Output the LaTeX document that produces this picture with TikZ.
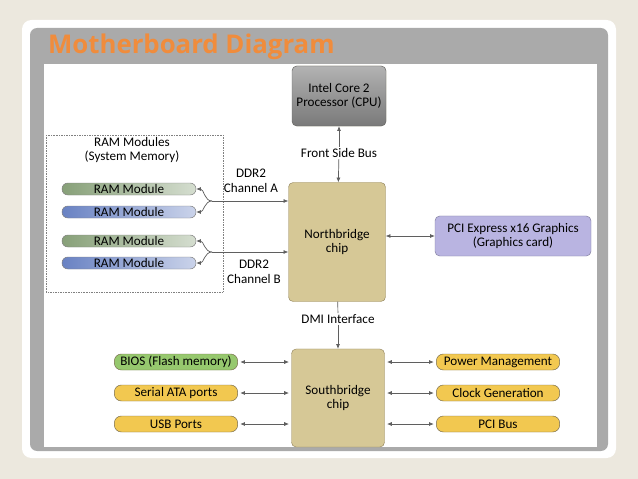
\documentclass[tikz,border=0pt]{standalone}
\usepackage{fontspec}
\setmainfont{Carlito}
\newfontfamily\titlefont{Open Sans}
\usetikzlibrary{arrows.meta,shadows}
\definecolor{pagebg}{RGB}{236,232,222}
\definecolor{framegray}{RGB}{170,170,170}
\definecolor{titleorange}{RGB}{240,140,60}
\definecolor{chipfill}{RGB}{214,200,150}
\definecolor{chipdraw}{RGB}{150,135,95}
\definecolor{pillyellow}{RGB}{242,200,80}
\definecolor{pillgreen}{RGB}{150,200,110}
\definecolor{ramgreen}{RGB}{135,160,120}
\definecolor{ramblue}{RGB}{105,130,195}
\definecolor{pcifill}{RGB}{185,180,225}
\definecolor{linegray}{RGB}{95,95,95}
\newcommand{\boardfont}{\fontsize{11.2}{12.5}\selectfont}
\tikzset{
 chip/.style={draw=chipdraw,fill=chipfill,rounded corners=4pt,align=center,font=\boardfont},
 pill/.style={draw=chipdraw!80!black,rounded corners=6pt,minimum width=3.7cm,minimum height=0.48cm,inner sep=1pt,font=\boardfont},
 ram/.style={draw=gray,rounded corners=5pt,minimum width=4.02cm,minimum height=0.36cm,inner sep=0pt,font=\boardfont},
 link/.style={draw=linegray,line width=0.6pt},
 both/.style={link,{Latex[length=4pt,width=3.5pt]}-{Latex[length=4pt,width=3.5pt]}},
 to/.style={link,-{Latex[length=4pt,width=3.5pt]}},
}
\begin{document}
\begin{tikzpicture}[x=0.03cm,y=-0.03cm]
    % page and frame
    \fill[pagebg] (0,0) rectangle (638,479);
    \fill[white,rounded corners=8pt] (22,20) rectangle (616,458);
    \fill[framegray,rounded corners=6pt] (30,28) rectangle (608,451);
    \fill[white] (44,64) rectangle (597,447);
    \node[anchor=west,font=\titlefont\fontsize{22}{24}\selectfont\bfseries,text=titleorange] (title) at (44,47) {Motherboard Diagram};

    % top part
    \node[chip,draw=gray!80!black,top color=gray!60,bottom color=gray!95!black,
          minimum width=2.82cm,minimum height=1.8cm] (cpu) at (339,96) {Intel Core 2\\Processor (CPU)};
    \node[chip,minimum width=2.91cm,minimum height=3.57cm] (nb) at (337,242) {Northbridge\\chip};
    \node[chip,draw=pcifill!70!black,fill=pcifill,minimum width=4.68cm,minimum height=1.2cm] (pci) at (513,236)
          {PCI Express x16 Graphics\\(Graphics card)};
    \node[font=\boardfont,fill=white,inner sep=1pt] (fsb) at (339,153) {Front Side Bus};
    \draw[to] (fsb) -- (cpu);
    \draw[to] (fsb) -- (nb);
    \draw[both] (nb.east |- pci) -- (pci);

    % memory
    \draw[gray,densely dotted] (46,135) rectangle (223,292);
    \node[align=center,font=\boardfont] (ramlabel) at (132,150) {RAM Modules\\(System Memory)};
    \node[ram,left color=ramgreen,right color=ramgreen!35] (ram1) at (129,189) {RAM Module};
    \node[ram,left color=ramblue,right color=ramblue!35] (ram2) at (129,212) {RAM Module};
    \node[ram,left color=ramgreen,right color=ramgreen!35] (ram3) at (129,241) {RAM Module};
    \node[ram,left color=ramblue,right color=ramblue!35] (ram4) at (129,263) {RAM Module};
    \coordinate (spa) at (212,201);
    \coordinate (spb) at (212,252);
    \draw[to] (spa) -- (spa -| nb.west);
    \draw[to] (spb) -- (spb -| nb.west);
    \draw[to] (spa) to[out=180,in=0] (ram1.east);
    \draw[to] (spa) to[out=180,in=0] (ram2.east);
    \draw[to] (spb) to[out=180,in=0] (ram3.east);
    \draw[to] (spb) to[out=180,in=0] (ram4.east);
    \node[align=center,font=\boardfont] (cha) at (251,181) {DDR2\\Channel A};
    \node[align=center,font=\boardfont] (chb) at (254,272) {DDR2\\Channel B};

    % south part
    \node[chip,minimum width=2.79cm,minimum height=2.94cm] (sb) at (338,398) {Southbridge\\chip};
    \node[font=\boardfont,fill=white,inner sep=1pt] (dmi) at (338,319) {DMI Interface};
    \draw[link] (nb) -- (dmi);
    \draw[to] (dmi) -- (sb);
    \node[pill,fill=pillgreen] (bios) at (176,362) {BIOS (Flash memory)};
    \node[pill,fill=pillyellow] (sata) at (176,393) {Serial ATA ports};
    \node[pill,fill=pillyellow] (usb) at (176,424) {USB Ports};
    \node[pill,fill=pillyellow] (power) at (498,362) {Power Management};
    \node[pill,fill=pillyellow] (clock) at (498,393) {Clock Generation};
    \node[pill,fill=pillyellow] (pcibus) at (498,424) {PCI Bus};
    \foreach \p in {bios,sata,usb}
        \draw[both,shorten <=2pt,shorten >=2pt] (\p) -- (\p -| sb.west);
    \foreach \p in {power,clock,pcibus}
        \draw[both,shorten <=2pt,shorten >=2pt] (\p -| sb.east) -- (\p);
\end{tikzpicture}
\end{document}
